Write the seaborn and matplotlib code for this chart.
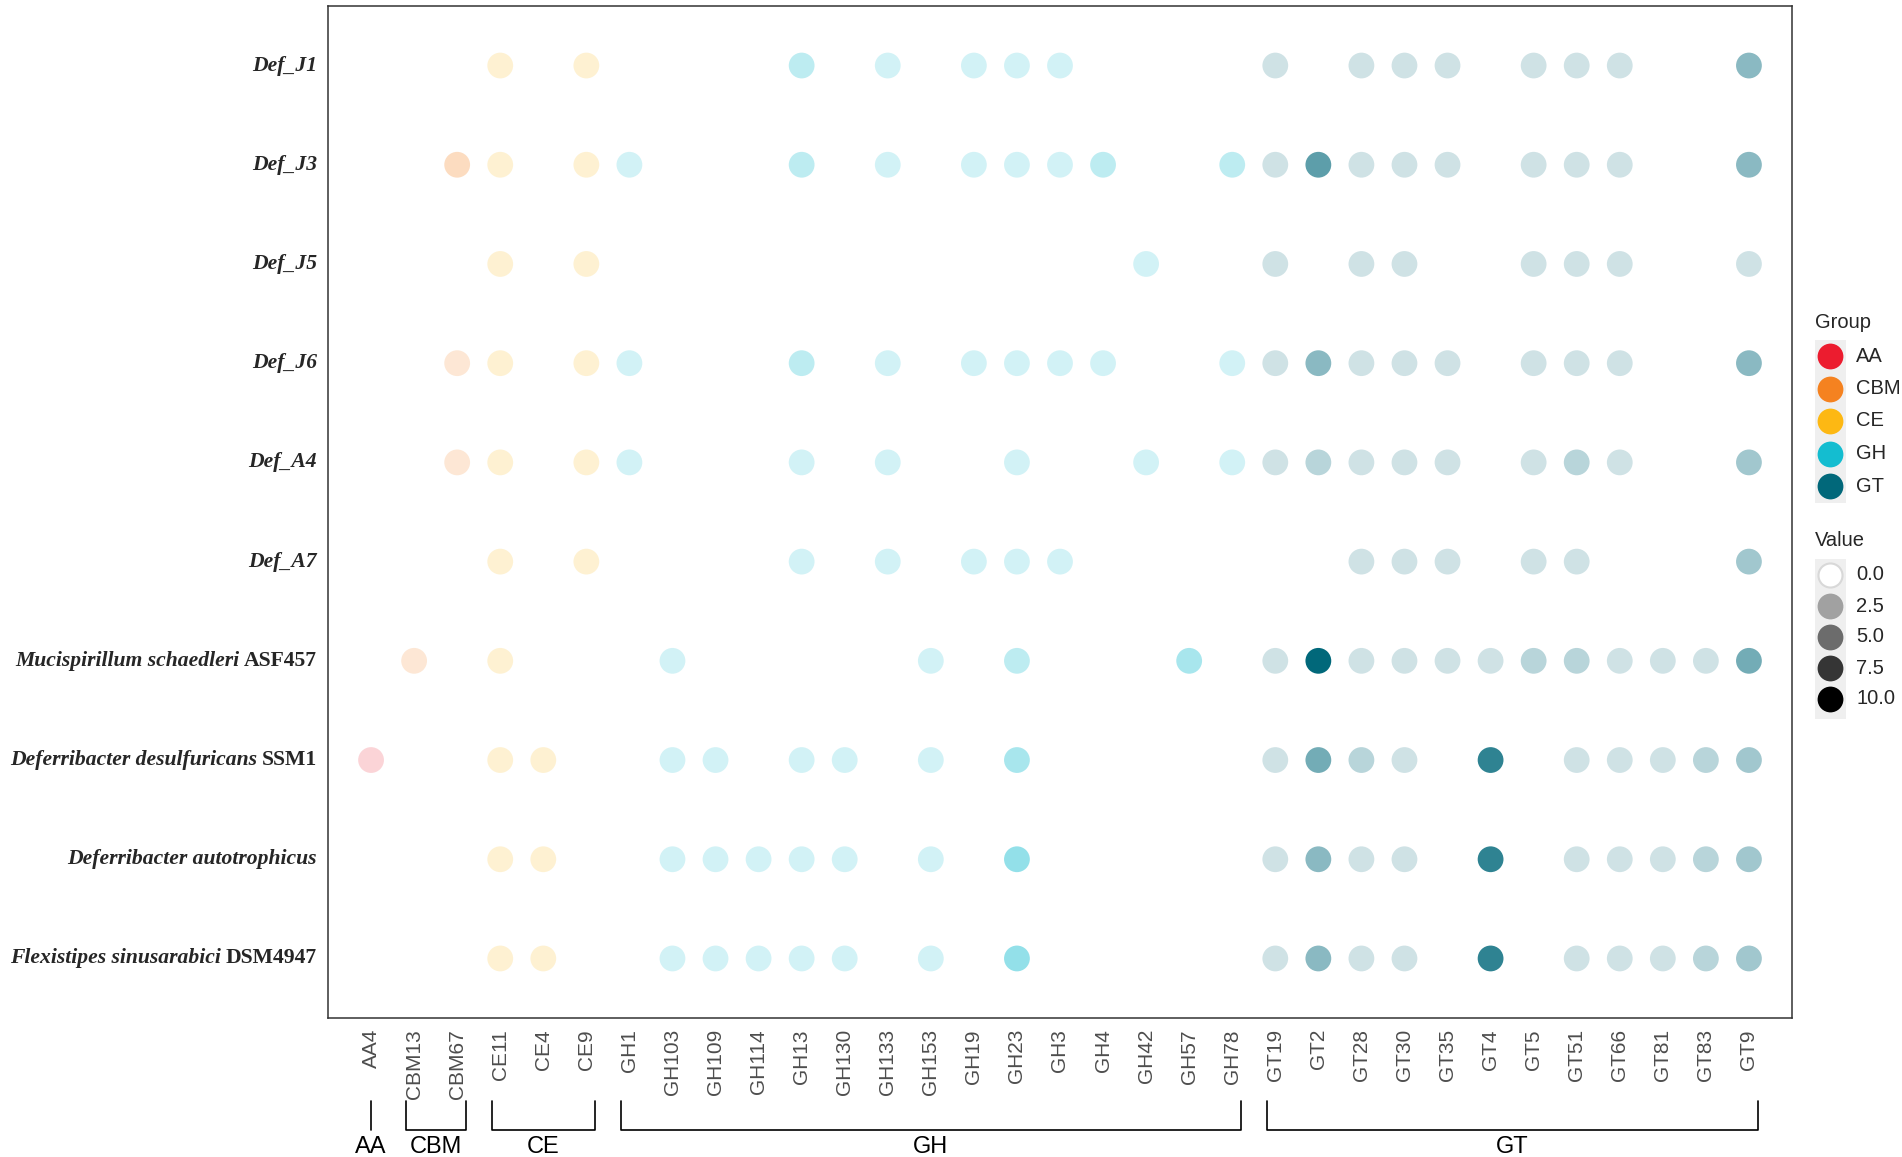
import numpy as np
import pandas as pd
import matplotlib
matplotlib.use("Agg")
import matplotlib.pyplot as plt
import matplotlib.transforms as mtransforms
from matplotlib.colors import to_rgba
from matplotlib.patches import Rectangle
import seaborn as sns

# CAZy families (x axis) and genomes (y axis, top to bottom)
families = ["AA4", "CBM13", "CBM67", "CE11", "CE4", "CE9",
            "GH1", "GH103", "GH109", "GH114", "GH13", "GH130", "GH133", "GH153",
            "GH19", "GH23", "GH3", "GH4", "GH42", "GH57", "GH78",
            "GT19", "GT2", "GT28", "GT30", "GT35", "GT4", "GT5", "GT51",
            "GT66", "GT81", "GT83", "GT9"]

species = ["Def_J1", "Def_J3", "Def_J5", "Def_J6", "Def_A4", "Def_A7",
           "Mucispirillum schaedleri", "Deferribacter desulfuricans",
           "Deferribacter autotrophicus", "Flexistipes sinusarabici"]
strains = ["", "", "", "", "", "", "ASF457", "SSM1", "", "DSM4947"]

group_names = ["AA", "CBM", "CE", "GH", "GT"]
group_colors = ["#EC1C2F", "#F58220", "#FDB813", "#14BDD0", "#01687A"]

# gene counts, one row per genome, same order as families (0 = absent)
#              AA  CBM   CE      GH (15)                                    GT (12)
def_j1  = [0, 0, 0, 1, 0, 1, 0, 0, 0, 0, 2, 0, 1, 0, 1, 1, 1, 0, 0, 0, 0, 1, 0, 1, 1, 1, 0, 1, 1, 1, 0, 0, 4]
def_j3  = [0, 0, 2, 1, 0, 1, 1, 0, 0, 0, 2, 0, 1, 0, 1, 1, 1, 2, 0, 0, 2, 1, 6, 1, 1, 1, 0, 1, 1, 1, 0, 0, 4]
def_j5  = [0, 0, 0, 1, 0, 1, 0, 0, 0, 0, 0, 0, 0, 0, 0, 0, 0, 0, 1, 0, 0, 1, 0, 1, 1, 0, 0, 1, 1, 1, 0, 0, 1]
def_j6  = [0, 0, 1, 1, 0, 1, 1, 0, 0, 0, 2, 0, 1, 0, 1, 1, 1, 1, 0, 0, 1, 1, 4, 1, 1, 1, 0, 1, 1, 1, 0, 0, 4]
def_a4  = [0, 0, 1, 1, 0, 1, 1, 0, 0, 0, 1, 0, 1, 0, 0, 1, 0, 0, 1, 0, 1, 1, 2, 1, 1, 1, 0, 1, 2, 1, 0, 0, 3]
def_a7  = [0, 0, 0, 1, 0, 1, 0, 0, 0, 0, 1, 0, 1, 0, 1, 1, 1, 0, 0, 0, 0, 0, 0, 1, 1, 1, 0, 1, 1, 0, 0, 0, 3]
m_schae = [0, 1, 0, 1, 0, 0, 0, 1, 0, 0, 0, 0, 0, 1, 0, 2, 0, 0, 0, 3, 0, 1, 10, 1, 1, 1, 1, 2, 2, 1, 1, 1, 5]
d_desul = [1, 0, 0, 1, 1, 0, 0, 1, 1, 0, 1, 1, 0, 1, 0, 3, 0, 0, 0, 0, 0, 1, 5, 2, 1, 0, 8, 0, 1, 1, 1, 2, 3]
d_autot = [0, 0, 0, 1, 1, 0, 0, 1, 1, 1, 1, 1, 0, 1, 0, 4, 0, 0, 0, 0, 0, 1, 4, 1, 1, 0, 8, 0, 1, 1, 1, 2, 3]
f_sinus = [0, 0, 0, 1, 1, 0, 0, 1, 1, 1, 1, 1, 0, 1, 0, 4, 0, 0, 0, 0, 0, 1, 4, 1, 1, 0, 8, 0, 1, 1, 1, 2, 3]
values = [def_j1, def_j3, def_j5, def_j6, def_a4, def_a7, m_schae, d_desul, d_autot, f_sinus]

value_breaks = [0.0, 2.5, 5.0, 7.5, 10.0]


def family_group(name):
    return name.rstrip("0123456789")


rows = []
for i, vals in enumerate(values):
    for j, v in enumerate(vals):
        if v > 0:
            rows.append({"genome": i, "family": j, "group": family_group(families[j]), "value": v})
df = pd.DataFrame(rows)

palette = dict(zip(group_names, group_colors))


def value_alpha(v):
    return 0.1 + 0.9 * v / 10.0


sns.set_style("white")
plt.rcParams["font.family"] = ["Liberation Sans", "DejaVu Sans"]

W, H = 1902, 1157
fig = plt.figure(figsize=(W / 100, H / 100), dpi=100)
ax = fig.add_axes([328 / W, 1 - 1018 / H, (1792 - 328) / W, (1018 - 6) / H])

sns.scatterplot(data=df, x="family", y="genome", hue="group", palette=palette,
                s=345, linewidth=0, legend=False, ax=ax)
coll = ax.collections[0]
coll.set_facecolor([to_rgba(palette[g], value_alpha(v)) for g, v in zip(df["group"], df["value"])])
coll.set_edgecolor("none")

ax.set_xlim(-1, len(families))
ax.set_ylim(len(species) - 0.4, -0.6)
ax.set_xlabel("")
ax.set_ylabel("")
ax.set_xticks(range(len(families)))
ax.set_xticklabels(families, rotation=90, fontsize=15, color="#4D4D4D")
ax.set_yticks(range(len(species)))
ax.set_yticklabels([""] * len(species))
ax.tick_params(axis="both", length=5, width=1, color="#333333", direction="out", pad=3)
for sp in ax.spines.values():
    sp.set_visible(True)
    sp.set_color("#333333")
    sp.set_linewidth(1.1)

# y labels: species in bold italic, strain in bold
ytrans = mtransforms.blended_transform_factory(ax.transAxes, ax.transData)
serif = ["Liberation Serif", "DejaVu Serif"]
for i, (sp_name, strain) in enumerate(zip(species, strains)):
    if strain:
        t1 = ax.annotate(strain, xy=(0, i), xycoords=ytrans, xytext=(-11, 0),
                         textcoords="offset pixels", ha="right", va="center",
                         fontsize=15.6, fontweight="bold", family=serif)
        ax.annotate(sp_name, xy=(0, 0), xycoords=t1, xytext=(-5, 0),
                    textcoords="offset pixels", ha="right", va="bottom",
                    fontsize=15.6, fontweight="bold", fontstyle="italic", family=serif)
    else:
        ax.annotate(sp_name, xy=(0, i), xycoords=ytrans, xytext=(-11, 0),
                    textcoords="offset pixels", ha="right", va="center",
                    fontsize=15.6, fontweight="bold", fontstyle="italic", family=serif)

# overlay in figure pixels for brackets and legends
ov = fig.add_axes([0, 0, 1, 1], facecolor="none")
ov.set_xlim(0, W)
ov.set_ylim(H, 0)
ov.set_axis_off()

btrans = mtransforms.blended_transform_factory(ax.transData, ov.transData)
for g in group_names:
    idx = [j for j, f in enumerate(families) if family_group(f) == g]
    lo, hi = min(idx), max(idx)
    if lo == hi:
        ov.plot([lo, lo], [1101, 1130], color="black", lw=1.2, transform=btrans, clip_on=False)
    else:
        ov.plot([lo - 0.2, lo - 0.2, hi + 0.2, hi + 0.2], [1101, 1130, 1130, 1101],
                color="black", lw=1.2, transform=btrans, clip_on=False)
    ov.text((lo + hi) / 2, 1147, g, transform=btrans, ha="center", va="center",
            fontsize=17, color="black")

# Group legend
ov.text(1815, 322, "Group", ha="left", va="center", fontsize=14.5)
ov.add_patch(Rectangle((1815, 340), 31, 163, facecolor="#EFEFEF", edgecolor="none"))
for k, (g, c) in enumerate(zip(group_names, group_colors)):
    yy = 356 + k * 32.5
    ov.scatter([1830], [yy], s=345, color=c, linewidth=0)
    ov.text(1856, yy, g, ha="left", va="center", fontsize=14.5)

# Value legend
ov.text(1815, 540, "Value", ha="left", va="center", fontsize=14.5)
ov.add_patch(Rectangle((1815, 559), 31, 160, facecolor="#EFEFEF", edgecolor="none"))
for k, v in enumerate(value_breaks):
    yy = 575 + k * 31
    if v == 0:
        ov.scatter([1830], [yy], s=300, color="white", edgecolor="#D8D8D8", linewidth=1.5)
    else:
        ov.scatter([1830], [yy], s=345, color=to_rgba("black", value_alpha(v)), linewidth=0)
    ov.text(1856, yy, f"{v:.1f}", ha="left", va="center", fontsize=14.5)

fig.savefig("out.png", dpi=100, facecolor="white")
